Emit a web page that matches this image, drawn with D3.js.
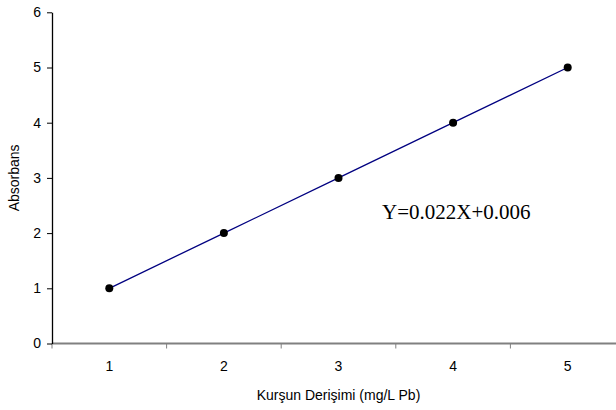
<!DOCTYPE html>
<html>
<head>
<meta charset="utf-8">
<script src="https://cdn.jsdelivr.net/npm/d3@7"></script>
<style>
  body { margin: 0; background: #fff; }
  svg { display: block; }
</style>
</head>
<body>
<svg width="616" height="410"></svg>
<script>
// concentration categories and absorbance readings
var categories = ["1", "2", "3", "4", "5"];
var absorbance = [1, 2, 3, 4, 5];
var yTicks = [0, 1, 2, 3, 4, 5, 6];
var equation = "Y=0.022X+0.006";

let svg = d3.select("svg");

let margin = { top: 12.3, left: 52, bottom: 66.5 };
let plotHeight = 410 - margin.top - margin.bottom;
// plot runs a bit past the right edge, like the original (clipped)
let plotWidth = 573;

let xScale = d3.scaleBand()
  .domain(categories)
  .range([0, plotWidth]);

let yScale = d3.scaleLinear()
  .domain([0, 6])
  .range([plotHeight, 0]);

let plot = svg.append("g")
  .attr("transform", "translate(" + margin.left + "," + margin.top + ")");

// x axis - gray line, ticks between categories
let xGroup = plot.append("g")
  .attr("transform", "translate(0," + plotHeight + ")");
xGroup.append("line")
  .attr("x1", 0).attr("x2", plotWidth)
  .attr("stroke", "#808080").attr("stroke-width", 2);
xGroup.selectAll("line.tick")
  .data(categories)
  .enter().append("line")
  .attr("class", "tick")
  .attr("x1", d => xScale(d)).attr("x2", d => xScale(d))
  .attr("y1", 0).attr("y2", 5)
  .attr("stroke", "#808080").attr("stroke-width", 1);
xGroup.selectAll("text")
  .data(categories)
  .enter().append("text")
  .attr("x", d => xScale(d) + xScale.bandwidth() / 2)
  .attr("y", 27)
  .attr("text-anchor", "middle")
  .style("font-family", "Arial, 'Liberation Sans', sans-serif")
  .style("font-size", "14px")
  .text(d => d);

// y axis
let yAxis = d3.axisLeft(yScale)
  .tickValues(yTicks)
  .tickFormat(d3.format("d"))
  .tickSize(5)
  .tickPadding(6)
  .tickSizeOuter(0);
let yGroup = plot.append("g").call(yAxis);
yGroup.select(".domain").attr("stroke", "#000").attr("stroke-width", 1.3);
yGroup.selectAll(".tick line").attr("stroke", "#000");
yGroup.selectAll(".tick text")
  .style("font-family", "Arial, 'Liberation Sans', sans-serif")
  .style("font-size", "14px")
  .attr("fill", "#000");

// the calibration line
let line = d3.line()
  .x((d, i) => xScale(categories[i]) + xScale.bandwidth() / 2)
  .y(d => yScale(d));

plot.append("path")
  .datum(absorbance)
  .attr("d", line)
  .attr("fill", "none")
  .attr("stroke", "#000080")
  .attr("stroke-width", 1.3);

plot.selectAll("circle")
  .data(absorbance)
  .enter().append("circle")
  .attr("cx", (d, i) => xScale(categories[i]) + xScale.bandwidth() / 2)
  .attr("cy", d => yScale(d))
  .attr("r", 4)
  .attr("fill", "#000");

// equation label
svg.append("text")
  .attr("x", 382)
  .attr("y", 219)
  .style("font-family", "'Times New Roman', 'Liberation Serif', serif")
  .style("font-size", "21px")
  .text(equation);

// axis titles
svg.append("text")
  .attr("x", margin.left + plotWidth / 2)
  .attr("y", 400)
  .attr("text-anchor", "middle")
  .style("font-family", "Arial, 'Liberation Sans', sans-serif")
  .style("font-size", "14px")
  .text("Kurşun Derişimi (mg/L Pb)");

svg.append("text")
  .attr("transform", "translate(19," + (margin.top + plotHeight / 2) + ") rotate(-90)")
  .attr("text-anchor", "middle")
  .style("font-family", "Arial, 'Liberation Sans', sans-serif")
  .style("font-size", "14px")
  .text("Absorbans");
</script>
</body>
</html>
